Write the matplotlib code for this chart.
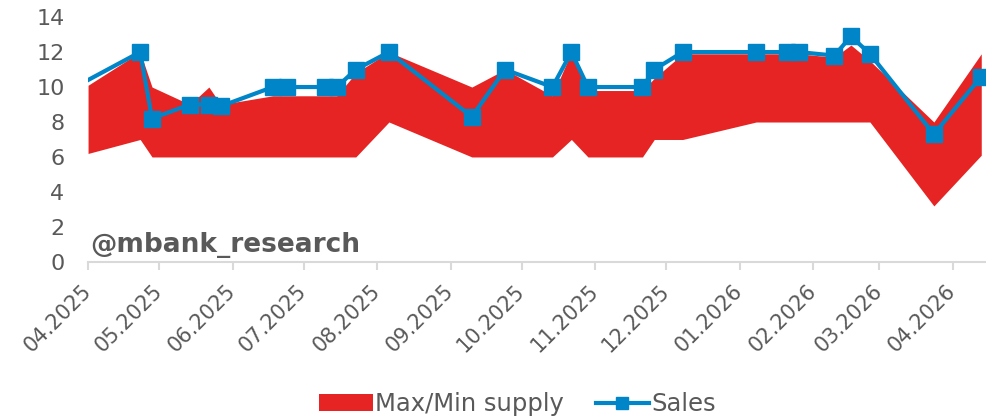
import pandas as pd
import matplotlib
matplotlib.use("Agg")
import matplotlib.pyplot as plt
import matplotlib.dates as mdates

# data (values in the chart's units)
dates = pd.to_datetime([
    "2025-04-01", "2025-04-23", "2025-04-28", "2025-05-14", "2025-05-22",
    "2025-05-27", "2025-06-18", "2025-06-24", "2025-07-10", "2025-07-15",
    "2025-07-23", "2025-08-06", "2025-09-10", "2025-09-24", "2025-10-14",
    "2025-10-22", "2025-10-29", "2025-11-21", "2025-11-26", "2025-12-08",
    "2026-01-08", "2026-01-21", "2026-01-26", "2026-02-10", "2026-02-17",
    "2026-02-25", "2026-03-24", "2026-04-13",
])
supply_max = [10.1, 12.0, 10.0, 9.0, 10.0, 9.0, 9.5, 9.5, 9.5, 9.5,
              10.8, 12.0, 10.0, 11.0, 9.5, 12.0, 9.8, 9.8, 10.5, 11.9,
              11.9, 11.9, 11.9, 11.7, 12.4, 11.5, 8.0, 11.9]
supply_min = [6.2, 7.0, 6.0, 6.0, 6.0, 6.0, 6.0, 6.0, 6.0, 6.0,
              6.0, 8.0, 6.0, 6.0, 6.0, 7.0, 6.0, 6.0, 7.0, 7.0,
              8.0, 8.0, 8.0, 8.0, 8.0, 8.0, 3.2, 6.1]
sales = [10.4, 12.0, 8.2, 9.0, 9.0, 8.9, 10.0, 10.0, 10.0, 10.0,
         11.0, 12.0, 8.3, 11.0, 10.0, 12.0, 10.0, 10.0, 11.0, 12.0,
         12.0, 12.0, 12.0, 11.8, 12.9, 11.9, 7.3, 10.6]

RED = "#E62423"
BLUE = "#0086C8"
GREY = "#595959"

plt.rcParams["font.family"] = ["DejaVu Sans"]

fig = plt.figure(figsize=(9.86, 4.17), dpi=100)
ax = fig.add_axes([0.0893, 0.372, 0.9107, 0.587])

ax.fill_between(dates, supply_min, supply_max, color=RED, lw=0,
                label="Max/Min supply")
# first point sits on the left edge, no marker drawn there
ax.plot(dates, sales, color=BLUE, lw=3, marker="s", markersize=11.5,
        markevery=list(range(1, len(dates))), label="Sales")

ax.set_xlim(pd.Timestamp("2025-04-01"), pd.Timestamp("2026-04-15"))
ax.set_ylim(0, 14)
ax.set_yticks(range(0, 15, 2))

ax.xaxis.set_major_locator(mdates.MonthLocator())
ax.xaxis.set_major_formatter(mdates.DateFormatter("%m.%Y"))

for side in ["top", "right", "left"]:
    ax.spines[side].set_visible(False)
ax.spines["bottom"].set_color("#D9D9D9")
ax.spines["bottom"].set_linewidth(1.5)

ax.tick_params(axis="y", length=0, labelsize=16, labelcolor=GREY, pad=17)
ax.tick_params(axis="x", length=6, width=1.5, color="#D9D9D9",
               labelsize=15, labelcolor=GREY, pad=13)
for lbl in ax.get_xticklabels():
    lbl.set_rotation(45)
    lbl.set_ha("right")
    lbl.set_va("center")
    lbl.set_rotation_mode("anchor")

ax.text(0.002, 0.04, "@mbank_research", transform=ax.transAxes,
        fontsize=19, fontweight="bold", color=GREY, va="baseline")

fig.legend(loc="center", bbox_to_anchor=(0.525, 0.031), ncol=2, frameon=False,
           fontsize=17.5, labelcolor=GREY, handlelength=2.2, columnspacing=1.3,
           handletextpad=0.1, markerscale=0.75)

fig.savefig("out.png", dpi=100)
